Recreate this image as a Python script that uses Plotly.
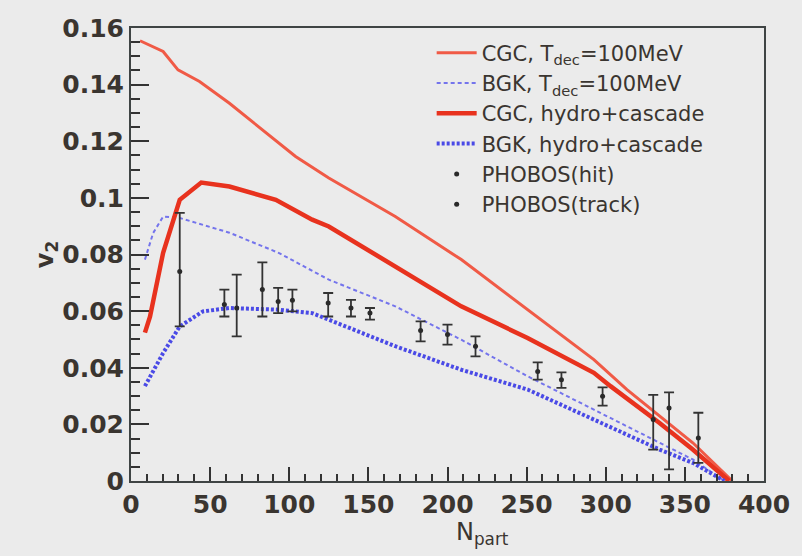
import plotly.graph_objects as go

# CGC, Tdec=100MeV (thin red)
cgc_t_x = [5.7, 20.3, 29.7, 43.3, 62.2, 83, 104, 125, 167, 208.7, 250.6, 292.5, 313.4, 334.4, 355, 380]
cgc_t_y = [0.1555, 0.1517, 0.1452, 0.1411, 0.1334, 0.124, 0.1146, 0.1070, 0.0934, 0.0782, 0.0605, 0.0429, 0.0323, 0.0229, 0.0135, 0.0]

# BGK, Tdec=100MeV (thin blue dashed)
bgk_t_x = [8.8, 14, 20.3, 30.8, 62.2, 93.6, 125, 167, 208.7, 250.6, 292.5, 334, 355, 375]
bgk_t_y = [0.0782, 0.0876, 0.0934, 0.0929, 0.0877, 0.0805, 0.0711, 0.0617, 0.0499, 0.0370, 0.0252, 0.0135, 0.0076, 0.0]

# CGC, hydro+cascade (thick red)
cgc_h_x = [8.8, 12, 20.3, 30.8, 44.4, 62.2, 91.5, 114.5, 125, 166.9, 208.7, 250.6, 292.5, 303, 334, 355, 378]
cgc_h_y = [0.0524, 0.058, 0.0806, 0.0993, 0.1054, 0.104, 0.0993, 0.0923, 0.0899, 0.0758, 0.0617, 0.0505, 0.0382, 0.0335, 0.0205, 0.0111, 0.0]

# BGK, hydro+cascade (thick blue dotted)
bgk_h_x = [8.8, 20.3, 30.8, 45.4, 62.2, 93.6, 114.5, 125, 167, 208.7, 250.6, 292.5, 334, 355, 375]
bgk_h_y = [0.0335, 0.0452, 0.0546, 0.0599, 0.0611, 0.0605, 0.0593, 0.0570, 0.0476, 0.0393, 0.0323, 0.0217, 0.0111, 0.0064, 0.0]

# PHOBOS (hit)
hit_x = [30.8, 66.8, 83, 330, 340, 358.5]
hit_y = [0.074, 0.0611, 0.0676, 0.0217, 0.0258, 0.0152]
hit_up = [0.0207, 0.0118, 0.0096, 0.0087, 0.0055, 0.0089]
hit_dn = [0.0194, 0.0100, 0.0095, 0.0106, 0.0217, 0.0088]

# PHOBOS (track)
trk_x = [59, 93, 102, 124.6, 139, 151, 183, 200, 217.7, 257, 272, 298]
trk_y = [0.0623, 0.0634, 0.0638, 0.0629, 0.0611, 0.0593, 0.0532, 0.0517, 0.0476, 0.0387, 0.0358, 0.0299]
trk_up = [0.0053, 0.0048, 0.0038, 0.0035, 0.0029, 0.0018, 0.0032, 0.0035, 0.0035, 0.0032, 0.0026, 0.0032]
trk_dn = [0.0042, 0.0041, 0.0039, 0.0048, 0.0030, 0.0023, 0.0039, 0.0035, 0.0036, 0.0029, 0.0029, 0.0033]

# tick labels
y_tickvals = [0, 0.02, 0.04, 0.06, 0.08, 0.1, 0.12, 0.14, 0.16]
y_ticktext = ["0", "0.02", "0.04", "0.06", "0.08", "0.1", "0.12", "0.14", "0.16"]
x_tickvals = [0, 50, 100, 150, 200, 250, 300, 350, 400]
x_ticktext = ["0", "50", "100", "150", "200", "250", "300", "350", "400"]

TXT = "#3a3530"
TICKFONT = dict(family="DejaVu Sans", size=25, color=TXT, weight="bold")

fig = go.Figure()
fig.add_trace(go.Scatter(x=cgc_t_x, y=cgc_t_y, mode="lines", name="CGC, T<sub>dec</sub>=100MeV",
                         line=dict(color="#f05a46", width=3)))
fig.add_trace(go.Scatter(x=bgk_t_x, y=bgk_t_y, mode="lines", name="BGK, T<sub>dec</sub>=100MeV",
                         line=dict(color="#7474ec", width=2, dash="4px,3px")))
fig.add_trace(go.Scatter(x=cgc_h_x, y=cgc_h_y, mode="lines", name="CGC, hydro+cascade",
                         line=dict(color="#e8321e", width=4.5)))
fig.add_trace(go.Scatter(x=bgk_h_x, y=bgk_h_y, mode="lines", name="BGK, hydro+cascade",
                         line=dict(color="#4a4ae6", width=4, dash="3px,2px")))
fig.add_trace(go.Scatter(x=hit_x, y=hit_y, mode="markers", name="PHOBOS(hit)",
                         marker=dict(color="#2a2a2a", size=5),
                         error_y=dict(type="data", symmetric=False, array=hit_up, arrayminus=hit_dn,
                                      color="#333333", thickness=1.8, width=5)))
fig.add_trace(go.Scatter(x=trk_x, y=trk_y, mode="markers", name="PHOBOS(track)",
                         marker=dict(color="#2a2a2a", size=5),
                         error_y=dict(type="data", symmetric=False, array=trk_up, arrayminus=trk_dn,
                                      color="#333333", thickness=1.8, width=5)))

axis_common = dict(showgrid=False, zeroline=False, showline=True, linecolor="#3f4444", linewidth=2,
                   mirror=True, ticks="inside", tickcolor="#333333", tickwidth=2, tickfont=TICKFONT)

fig.update_xaxes(range=[0, 400], tickvals=x_tickvals, ticktext=x_ticktext, ticklen=14,
                 minor=dict(dtick=10, ticks="inside", ticklen=7, tickcolor="#333333", tickwidth=1.5),
                 **axis_common)
fig.update_yaxes(range=[0, 0.16], tickvals=y_tickvals, ticktext=y_ticktext, ticklen=18,
                 minor=dict(dtick=0.005, ticks="inside", ticklen=9, tickcolor="#333333", tickwidth=1.5),
                 title=dict(text="v<sub>2</sub>", font=dict(family="DejaVu Sans", size=24, color=TXT, weight="bold"),
                            standoff=2),
                 **axis_common)

fig.add_annotation(text="N<sub>part</sub>", xref="paper", yref="paper", x=0.555, y=-0.115,
                   xanchor="center", yanchor="middle", showarrow=False,
                   font=dict(family="DejaVu Sans", size=24, color=TXT))

fig.update_layout(
    width=802, height=556,
    margin=dict(l=131, r=36, t=28, b=75),
    paper_bgcolor="#ebebeb", plot_bgcolor="#ebebeb",
    legend=dict(x=0.475, y=0.99, xanchor="left", yanchor="top", bgcolor="rgba(0,0,0,0)",
                font=dict(family="DejaVu Sans", size=21, color=TXT), tracegroupgap=0,
                itemwidth=40),
    showlegend=True,
)

fig.write_html("out.html")
